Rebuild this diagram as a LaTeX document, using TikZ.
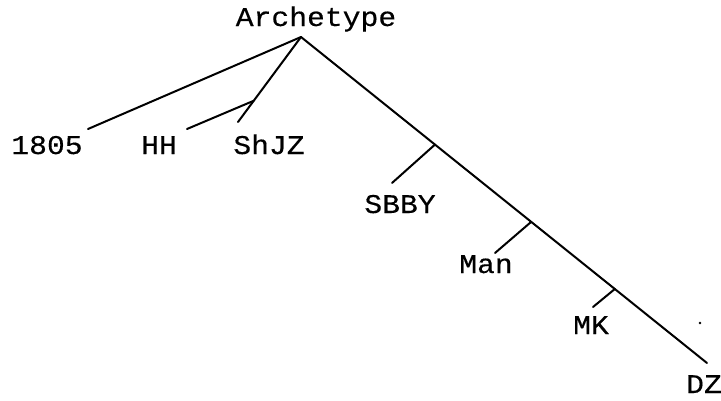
\documentclass[tikz,border=0pt]{standalone}
\usepackage{fontspec}
\newfontfamily\plotfont[FakeStretch=1.1,FakeBold=0.4]{Liberation Mono}
\usetikzlibrary{calc}
\tikzset{
  lbl/.style={anchor=base, inner sep=0pt, font=\plotfont\fontsize{27}{27}\selectfont},
  branch/.style={line width=2pt, line cap=round}
}
\begin{document}
\begin{tikzpicture}[x=1pt,y=-1pt]
\useasboundingbox (0,0) rectangle (721,400);
% labels
\node[lbl] (arch) at (316,26) {Archetype};
\node[lbl] (n1805) at (47,154) {1805};
\node[lbl] (hh) at (159,154) {HH};
\node[lbl] (shjz) at (269,154) {ShJZ};
\node[lbl] (sbby) at (400,213) {SBBY};
\node[lbl] (man) at (486,273) {Man};
\node[lbl] (mk) at (591,334) {MK};
\node[lbl] (dz) at (704,393) {DZ};
% branch points
\coordinate (apex) at (301,37);
\coordinate (e1805) at (88,129);
\coordinate (eShJZ) at (238,122);
\coordinate (eHH) at (187,129);
\coordinate (eDZ) at (707,363);
\coordinate (jHH) at ($(apex)!0.75!(eShJZ)$);
\coordinate (jSBBY) at ($(apex)!0.33!(eDZ)$);
\coordinate (jMan) at ($(apex)!0.567!(eDZ)$);
\coordinate (jMK) at ($(apex)!0.773!(eDZ)$);
\coordinate (eSBBY) at (392,183);
\coordinate (eMan) at (495,253);
\coordinate (eMK) at (593,307);
% connectors
\draw[branch] (apex) -- (e1805);
\draw[branch] (apex) -- (eShJZ);
\draw[branch] (eHH) -- (jHH);
\draw[branch] (apex) -- (eDZ);
\draw[branch] (eSBBY) -- (jSBBY);
\draw[branch] (eMan) -- (jMan);
\draw[branch] (eMK) -- (jMK);
\fill (700,323) circle (1.4pt);
\end{tikzpicture}
\end{document}
